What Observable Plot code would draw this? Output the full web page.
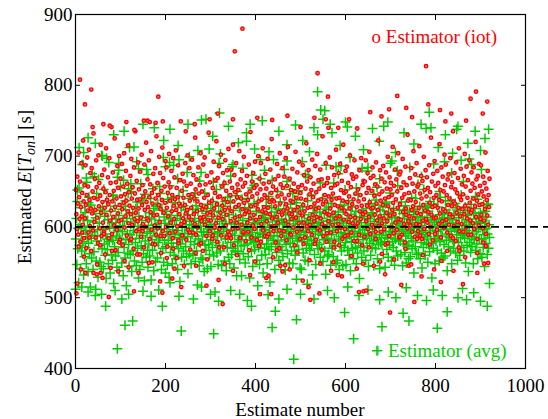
<!DOCTYPE html>
<html><head><meta charset="utf-8">
<script src="https://cdn.jsdelivr.net/npm/d3@7"></script>
<script src="https://cdn.jsdelivr.net/npm/@observablehq/plot@0.6"></script>
<style>
html,body{margin:0;padding:0;background:#fff}
#chart svg, #chart svg text, #chart svg tspan { font-family: "Liberation Serif", "DejaVu Serif", serif !important; }
</style>
</head><body><div id="chart"></div>
<script>
// Estimator (iot): value per estimate number 1..920
const iotValues = [
652,618,597,671,633,589,705,642,611,664,579,628,690,615,648,603,722,636,584,659,
612,687,631,570,645,698,623,657,592,709,638,601,676,626,566,683,619,650,595,732,
641,607,668,624,585,694,656,613,639,577,701,629,662,598,644,716,620,587,673,635,
606,654,593,681,627,561,649,711,617,638,599,670,632,584,697,645,609,662,623,741,
590,636,677,614,651,602,725,628,567,663,640,596,686,619,655,608,700,631,582,668,
643,610,689,625,574,657,634,704,599,646,615,679,637,588,661,622,715,605,649,630,
581,672,618,696,640,603,656,627,569,684,611,647,735,620,594,665,638,608,691,626,
653,597,639,678,613,586,702,631,659,604,643,571,688,624,650,600,719,635,612,667,
628,609,694,642,583,660,621,707,596,648,633,576,675,616,654,602,683,640,589,728,
617,662,598,645,631,699,607,676,625,563,651,638,712,594,669,620,587,657,634,693,
600,684,627,572,648,615,663,703,591,637,656,606,679,622,645,584,697,630,611,670,
639,593,708,624,655,601,642,687,577,633,618,666,629,749,604,651,588,675,612,641,
664,607,631,690,619,582,658,624,701,596,645,614,683,637,568,661,627,610,695,646,
592,673,618,640,604,726,653,589,667,622,636,599,684,647,575,659,613,704,631,608,
650,625,566,688,614,641,698,603,660,628,587,672,619,645,610,733,634,594,663,621,
609,677,637,583,655,616,692,626,599,648,666,605,721,632,579,669,642,613,686,597,
643,620,702,588,657,630,611,676,639,571,662,624,694,602,651,617,680,635,593,710,
627,589,664,645,608,681,622,655,597,716,636,574,673,613,649,628,690,606,642,660,
598,652,631,707,615,584,667,640,603,679,625,657,591,699,634,618,662,580,646,623,
672,606,638,593,688,621,650,612,734,629,585,664,643,602,676,617,655,597,692,631,
610,659,582,647,625,700,636,573,668,614,653,690,604,639,622,711,595,661,628,645,
587,675,620,654,608,641,696,627,590,663,635,618,681,600,648,724,612,638,657,594,
636,601,667,629,578,652,614,689,643,606,672,621,595,704,633,660,587,646,617,683,
655,623,594,671,640,609,697,632,581,658,626,713,603,645,619,668,590,637,652,611,
618,682,635,599,661,624,574,650,706,613,641,593,677,628,656,605,692,620,583,648,
640,597,659,616,687,631,606,673,622,585,654,638,718,601,664,627,594,680,612,646,
603,670,628,652,589,695,617,642,661,608,633,576,686,625,649,614,703,598,637,666,
627,654,595,681,612,639,667,604,728,632,587,658,621,645,600,690,636,579,662,618,
669,608,643,617,698,626,592,655,638,684,603,647,620,571,673,631,659,612,709,640,
594,661,629,604,676,641,615,689,599,652,627,665,583,637,716,610,648,623,597,679,
650,618,685,635,588,662,607,643,626,701,614,656,592,674,632,605,668,639,580,694,
613,647,600,671,628,739,605,653,636,589,680,622,645,611,697,630,574,659,618,665,
639,586,664,621,694,608,648,630,676,597,655,614,706,635,590,669,626,651,603,684,
627,672,599,644,617,660,583,691,633,609,657,624,722,601,646,615,680,637,593,668,
605,650,631,686,612,597,663,640,575,677,620,654,608,699,629,642,587,670,616,653,
662,600,645,624,713,634,591,658,618,681,606,639,667,596,650,627,704,611,585,674,
632,678,610,655,589,641,696,621,663,604,646,578,685,626,617,659,598,730,637,608,
648,615,669,602,638,683,624,593,661,629,707,612,650,586,674,635,604,690,620,657,
594,660,627,714,603,647,618,672,640,583,665,609,631,699,597,652,623,680,611,643,
670,606,655,621,590,687,634,649,600,726,617,664,628,581,675,641,612,693,630,658,
613,645,596,679,627,662,604,638,717,619,652,585,684,636,608,671,625,650,599,702,
659,622,688,610,645,592,667,631,674,603,640,618,697,587,656,629,663,614,735,636,
601,676,633,653,580,691,620,648,607,669,627,711,594,642,615,682,638,604,660,625,
646,593,672,618,703,630,657,599,685,612,641,666,589,625,694,634,609,651,620,677,
624,661,605,640,684,597,655,629,720,614,667,637,583,672,646,602,689,631,658,611,
687,617,650,632,598,671,643,609,662,625,705,590,654,638,616,679,603,645,628,668
];
// Estimator (iot): further estimates read at their own estimate numbers
const iotExtraX = [10,21,35,184,354,371,538,561,715,779,784,878,890,915,
38,62,76,113,131,152,160,165,178,194,245,265,298,316,350,404,437,471,500,531,
556,562,584,608,655,680,697,735,748,810,835,868,905,822,
2,4,74,327,699,753,12,22,40,47,56,60,78,95,118,130,140,171,188,193,215,220,235,268,291,318,
350,388,410,424,429,435,455,476,505,518,522,542,544,568,583,592,625,630,640,646,
663,688,724,741,769,797,812,840,861,893,908,460,
7,19,31,48,63,81,97,109,124,137,149,163,177,189,203,217,229,241,254,267,
279,293,305,319,332,346,359,373,386,399,412,426,439,453,466,479,493,507,520,534,
547,559,573,586,599,613,626,639,652,667,681,694,708,721,733,746,759,772,787,799,
813,826,839,852,866,879,893,906,917,15,55,143,225,336,447,575,677,766,853,912];
const iotExtraY = [808,773,794,784,848,880,817,784,785,827,773,781,791,777,
741,745,743,748,737,750,750,748,747,749,735,745,752,760,752,754,751,757,741,754,
752,740,740,752,762,756,766,768,755,765,760,750,760,749,
506,520,501,491,479,494,540,535,535,533,535,528,542,537,543,509,535,550,523,507,527,541,515,545,517,525,
538,532,505,528,531,505,545,540,524,515,497,506,548,538,532,530,541,508,509,510,
545,533,518,545,530,540,522,538,519,535,548,537,
572,558,585,547,590,566,578,552,583,561,594,549,575,587,556,569,581,545,592,563,
577,554,588,571,548,584,560,593,567,551,579,586,557,570,546,589,564,576,553,582,
568,591,550,574,587,559,580,548,571,593,562,577,554,586,569,547,583,560,575,590,
552,566,584,571,557,589,563,578,549,592,574,561,556,585,567,579,551,588,566,573];

// Estimator (avg): value per estimate number 1..920
const avgValues = [
583,612,547,636,569,598,521,655,574,603,541,627,590,566,688,579,614,532,601,558,
620,571,595,548,663,586,609,537,577,642,562,599,515,631,584,556,675,593,540,607,
565,624,588,503,613,552,647,580,596,529,667,574,605,550,619,587,544,701,569,628,
597,541,653,576,615,560,590,527,637,583,568,610,548,691,579,600,535,622,586,561,
606,553,581,644,520,598,572,629,559,611,587,543,670,595,564,616,538,584,602,657,
578,625,549,593,608,531,666,571,600,556,637,582,517,612,590,563,648,575,544,619,
589,561,604,650,537,583,619,566,595,713,552,607,578,626,545,592,635,570,601,528,
615,584,540,597,661,573,609,550,588,634,562,599,524,646,580,613,557,681,591,567,
543,602,576,620,559,593,640,525,611,582,567,654,596,538,618,574,603,551,629,587,
600,556,632,578,511,609,585,647,563,597,540,624,588,570,698,550,614,581,605,535,
572,618,593,546,639,581,603,529,658,590,564,611,577,622,548,596,572,687,560,609,
589,634,555,601,577,616,540,595,569,643,585,523,612,576,628,557,599,583,651,566,
611,547,591,624,572,603,558,677,586,534,617,595,562,608,640,579,548,603,590,625,
560,598,641,575,612,551,587,630,566,599,518,622,583,608,545,665,577,601,556,593,
626,580,554,609,592,537,648,574,606,567,619,589,541,632,597,575,710,561,603,582,
544,615,597,571,636,586,559,622,592,508,604,578,653,563,611,590,547,629,574,600,
593,566,620,587,545,608,629,573,597,660,552,616,583,605,538,594,571,642,584,557,
617,590,548,634,578,604,561,685,595,570,623,542,607,588,566,613,597,531,650,579,
565,605,582,627,554,596,616,573,531,639,587,609,562,598,574,627,549,601,588,721,
603,576,640,558,612,589,528,619,581,597,566,655,592,544,610,578,633,568,606,585,
579,622,553,600,586,636,571,609,547,591,668,575,604,560,620,589,535,613,596,570,
612,561,595,630,576,548,607,584,643,568,599,522,616,588,572,627,556,603,581,695,
587,614,540,602,576,621,564,592,650,580,609,553,597,572,635,546,588,611,567,604,
558,596,625,582,606,539,617,575,591,664,562,601,585,620,549,609,577,632,594,566,
621,584,548,611,597,572,638,560,604,587,526,615,580,599,651,568,608,589,542,624,
594,540,608,579,628,563,600,585,617,553,674,592,570,605,583,637,551,612,576,598,
567,609,586,645,574,597,532,620,581,605,561,629,593,547,614,578,602,730,569,590,
606,575,621,557,595,612,570,588,640,551,603,582,619,566,597,533,625,584,608,559,
583,628,561,599,577,609,546,633,589,570,614,595,558,662,580,605,573,617,549,592,
611,553,597,621,583,540,605,574,630,592,566,609,586,545,624,601,571,591,652,578,
547,601,584,612,567,595,637,560,589,606,538,618,579,598,628,569,603,555,586,614,
594,571,622,548,609,586,563,645,577,600,527,614,591,573,606,557,683,596,582,620,
566,615,589,602,553,626,584,571,597,612,544,590,633,577,604,560,618,587,571,599,
620,580,545,608,593,631,569,599,582,656,555,610,575,603,589,541,624,578,612,585,
575,606,628,561,594,617,579,543,602,588,635,568,611,584,557,620,593,574,648,599,
589,552,613,579,600,571,626,590,546,614,583,605,566,597,679,559,608,581,596,623,
607,580,561,635,588,602,545,619,576,594,612,564,630,587,549,604,573,617,591,555,
574,621,596,558,610,584,641,569,603,580,617,535,598,625,572,606,586,561,614,593,
598,563,606,590,629,555,614,578,602,542,620,595,571,653,583,609,560,592,627,576,
613,586,550,622,575,599,565,636,591,610,577,528,616,600,570,632,583,607,548,595,
580,611,594,567,628,586,603,552,617,579,642,596,563,608,587,620,556,601,575,613,
559,603,624,581,597,538,612,590,572,619,585,605,566,637,594,548,610,582,601,570,
616,579,598,633,563,605,589,624,553,597,578,613,594,560,620,585,645,571,603,589,
591,617,566,602,584,628,549,610,595,574,616,588,537,623,599,578,607,564,632,586,
572,604,590,548,619,582,600,626,567,611,593,576,639,555,598,615,583,606,562,620,
608,583,557,614,596,571,631,589,544,605,622,577,598,614,561,590,632,570,603,585
];
// Estimator (avg): further estimates read at their own estimate numbers
const avgExtraX = [538,786,8,18,28,44,60,85,108,120,150,175,196,210,228,250,272,290,305,322,340,362,
380,398,415,430,452,470,489,505,520,530,545,550,570,588,600,622,640,660,675,694,
711,730,752,768,790,806,822,838,850,872,888,900,910,918,96,230,350,470,590,700,820,
140,420,650,880,685,779,847,280,320,388,554,566,604,
93,110,127,235,67,193,485,437,307,491,618,670,391,444,598,681,804,728,741,826,915,869,
0,14,28,45,58,88,103,118,150,168,210,230,262,280,300,318,345,365,382,405,
428,452,470,500,515,530,560,575,605,630,650,676,695,712,735,760,780,795,815,850,860,885,900,920,
4,17,29,42,56,69,83,96,111,123,136,148,161,174,187,200,214,227,240,253,
266,279,292,306,319,333,345,358,372,385,397,411,424,437,451,464,477,491,504,517,
531,544,557,571,584,597,610,624,637,649,663,676,689,703,716,729,743,756,769,783,
796,809,822,836,849,862,875,889,902,914,24,118,209,301,392,483,579,668,761,857];
const avgExtraY = [791,762,712,705,726,718,700,730,735,712,745,740,722,738,715,745,708,752,728,703,742,719,
733,710,750,706,735,716,744,722,706,740,765,752,733,715,748,728,709,739,721,748,
705,733,717,745,740,712,730,704,742,718,735,708,725,738,690,695,688,693,686,690,692,
682,680,684,688,742,739,738,751,761,745,764,745,741,
428,461,467,453,488,488,413,458,449,469,442,425,488,481,479,459,457,478,467,480,488,497,
512,515,508,512,505,510,498,505,509,502,521,502,498,515,505,495,510,505,496,517,
504,498,512,505,519,498,510,500,515,503,511,497,508,500,514,503,496,511,503,500,513,507,495,520,
652,688,634,671,623,697,645,680,629,661,692,638,674,626,657,685,641,668,630,699,
648,677,622,663,690,636,672,644,683,627,659,695,639,666,625,681,653,634,692,670,
628,662,687,642,675,631,698,655,621,679,646,668,633,693,658,624,684,640,671,629,
689,650,637,676,627,664,696,643,681,632,669,654,691,626,673,647,685,638,660,694];

const xTicks = [0, 200, 400, 600, 800, 1000];
const yTicks = [400, 500, 600, 700, 800, 900];
const referenceLevel = [600];
const iotLabel = ["o Estimator (iot)"];
const avgLabel = ["+ Estimator (avg)"];
const xTitle = "Estimate number";

const iot = iotValues.map((v, i) => ({x: i + 1, y: v}))
  .concat(iotExtraX.map((x, i) => ({x, y: iotExtraY[i]})));
const avg = avgValues.map((v, i) => ({x: i + 1, y: v}))
  .concat(avgExtraX.map((x, i) => ({x, y: avgExtraY[i]})));

const font = "Liberation Serif, DejaVu Serif, serif";
const fmt = d3.format("d");
const chart = Plot.plot({
  width: 548, height: 419,
  marginLeft: 75, marginRight: 23, marginTop: 14, marginBottom: 51,
  style: {fontFamily: font, fontSize: "19px", background: "#fff", color: "#000", overflow: "visible"},
  x: {domain: [0, 1000]},
  y: {domain: [400, 900]},
  marks: [
    Plot.dot(avg, {x: "x", y: "y", symbol: "plus", r: 3.3, stroke: "#00cc00", strokeWidth: 1.5}),
    Plot.dot(iot, {x: "x", y: "y", r: 1.7, stroke: "#ff0000", fill: "#ff7a7a", strokeWidth: 1.4}),
    Plot.ruleY(referenceLevel, {x1: 0, x2: 1070, stroke: "#000", strokeWidth: 1.8, strokeDasharray: "8,5"}),
    Plot.text(iotLabel, {x: 658, y: 869, textAnchor: "start", fill: "#ff0000", fontSize: 19}),
    Plot.text(avgLabel, {x: 660, y: 425, textAnchor: "start", fill: "#00cc00", fontSize: 19}),
    Plot.frame({stroke: "#000", strokeWidth: 1.2}),
    Plot.axisX(xTicks, {anchor: "bottom", tickSize: -5, tickPadding: 15, tickFormat: fmt, label: null}),
    Plot.axisX(xTicks, {anchor: "top", tickSize: -5, tickFormat: () => "", label: null}),
    Plot.axisY(yTicks, {anchor: "left", tickSize: -5, tickPadding: 8, tickFormat: fmt, label: null}),
    Plot.axisY(yTicks, {anchor: "right", tickSize: -5, tickFormat: () => "", label: null})
  ]
});
document.getElementById("chart").appendChild(chart);

const svg = d3.select(chart);
svg.append("text")
  .attr("x", 300).attr("y", 416)
  .attr("text-anchor", "middle")
  .attr("font-size", 19).attr("fill", "#000")
  .text(xTitle);

const yl = svg.append("text")
  .attr("transform", "translate(31,187) rotate(-90)")
  .attr("text-anchor", "middle")
  .attr("font-size", 19).attr("fill", "#000");
yl.append("tspan").text("Estimated ");
yl.append("tspan").attr("font-style", "italic").text("E");
yl.append("tspan").text("[");
yl.append("tspan").attr("font-style", "italic").text("T");
yl.append("tspan").attr("font-style", "italic").attr("font-size", 14).attr("dy", 4).text("on");
yl.append("tspan").attr("dy", -4).text("]");
yl.append("tspan").text(" [s]");
</script>
</body></html>
